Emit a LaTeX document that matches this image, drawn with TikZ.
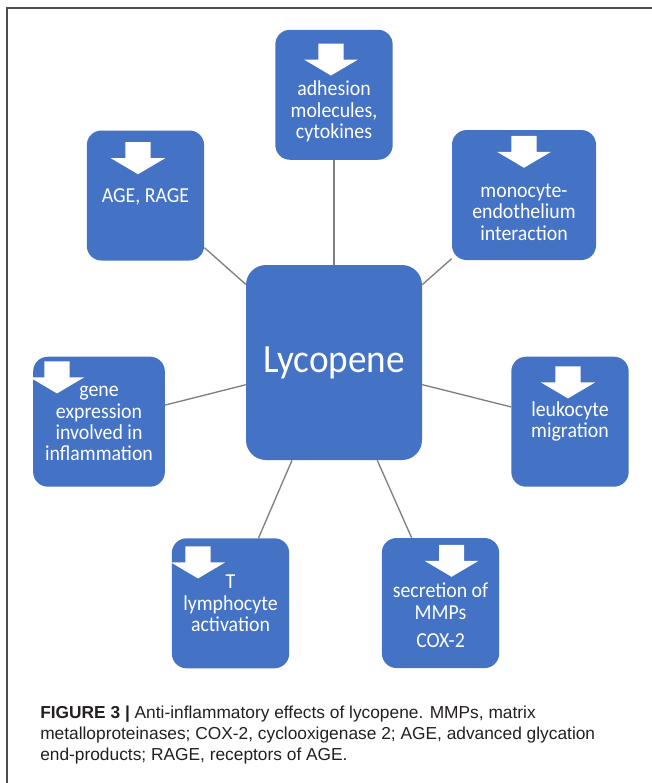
\documentclass[tikz,border=0pt]{standalone}
\usepackage{fontspec}
\setmainfont{Liberation Sans}
\newfontfamily\boxfont[FakeStretch=0.93]{Carlito}
\usetikzlibrary{positioning}
\definecolor{boxblue}{HTML}{4472C4}
\definecolor{linkgray}{HTML}{7F7F7F}
\definecolor{framegray}{HTML}{4D4D4D}
\definecolor{captext}{HTML}{231F20}
\tikzset{
  effbox/.style={fill=boxblue, rounded corners=11pt, minimum width=88pt,
    minimum height=97.5pt, inner sep=0pt},
  efftext/.style={text=white, font=\boxfont\fontsize{16pt}{16pt}\selectfont,
    align=center, inner sep=0pt},
  link/.style={draw=linkgray, line width=1pt},
  caption/.style={anchor=north west, align=left, inner sep=0pt, text=captext,
    font=\fontsize{13pt}{15.75pt}\selectfont},
  downarrow/.pic={
    \fill[white] (-9.4pt,0pt) -- (9.4pt,0pt) -- (9.4pt,-12pt) -- (20.3pt,-12pt)
      -- (0pt,-24pt) -- (-20.3pt,-12pt) -- (-9.4pt,-12pt) -- cycle;
  }
}

\begin{document}
\begin{tikzpicture}[x=0.75pt, y=-0.75pt, on grid]
    \useasboundingbox (0,0) rectangle (652,783);
    % frame
    \draw[framegray, line width=1.2pt] (7,783) -- (7,8) -- (652,8);

    \node[effbox, minimum width=132pt, minimum height=146.25pt, rounded corners=15pt,
      text=white, font=\boxfont\fontsize{30pt}{30pt}\selectfont] (lyc) at (334,362.5) {Lycopene};
    \node[effbox, above=200.8pt of lyc] (adh) {};
    \node[effbox, above left=125.25pt and 141.4pt of lyc] (age) {};
    \node[effbox, minimum width=108pt, above right=125.6pt and 142.5pt of lyc] (mono) {};
    \node[effbox, minimum width=98.75pt, below left=44.4pt and 176.25pt of lyc] (gene) {};
    \node[effbox, below right=44.4pt and 177pt of lyc] (leuko) {};
    \node[effbox, below left=180.6pt and 77.6pt of lyc] (tcell) {};
    \node[effbox, below right=180.4pt and 79.9pt of lyc] (mmp) {};

    % down arrows
    \pic at ([xshift=-2.25pt, yshift=-10.5pt]adh.north) {downarrow};
    \pic at ([xshift=-5.6pt, yshift=-9pt]age.north) {downarrow};
    \pic at ([yshift=-4.5pt]mono.north) {downarrow};
    \pic at ([xshift=-31.5pt, yshift=-3.75pt]gene.north) {downarrow};
    \pic at ([xshift=-1.5pt, yshift=-7.5pt]leuko.north) {downarrow};
    \pic at ([xshift=-24.4pt, yshift=-6.3pt]tcell.north) {downarrow};
    \pic at ([xshift=8.25pt, yshift=-5.25pt]mmp.north) {downarrow};

    \node[efftext] (adh-t) at ([yshift=-12.6pt]adh.center) {adhesion\\molecules,\\cytokines};
    \node[efftext] (age-t) at ([yshift=-1pt]age.center) {AGE, RAGE};
    \node[efftext] (mono-t) at ([yshift=-12.75pt]mono.center) {monocyte-\\endothelium\\interaction};
    \node[efftext] (gene-t) at ([yshift=-1.5pt]gene.center) {gene\\expression\\involved in\\inflammation};
    \node[efftext] (leuko-t) at (leuko.center) {leukocyte\\migration};
    \node[efftext] (tcell-t) at (tcell.center) {T\\lymphocyte\\activation};
    \node[efftext] (mmp-t) at ([yshift=-9pt]mmp.center) {secretion of\\MMPs\\[5pt]COX-2};

    \draw[link] (lyc) -- (adh);
    \draw[link] (lyc) -- (age);
    \draw[link] (lyc) -- (mono);
    \draw[link] (lyc) -- (gene);
    \draw[link] (lyc) -- (leuko);
    \draw[link] (lyc) -- (tcell);
    \draw[link] (lyc) -- (mmp);

    \node[caption] (cap) at (40,706) {\textbf{FIGURE 3 |} Anti-inflammatory effects of lycopene. MMPs, matrix\\
      metalloproteinases; COX-2, cyclooxigenase 2; AGE, advanced glycation\\
      end-products; RAGE, receptors of AGE.};
\end{tikzpicture}
\end{document}
